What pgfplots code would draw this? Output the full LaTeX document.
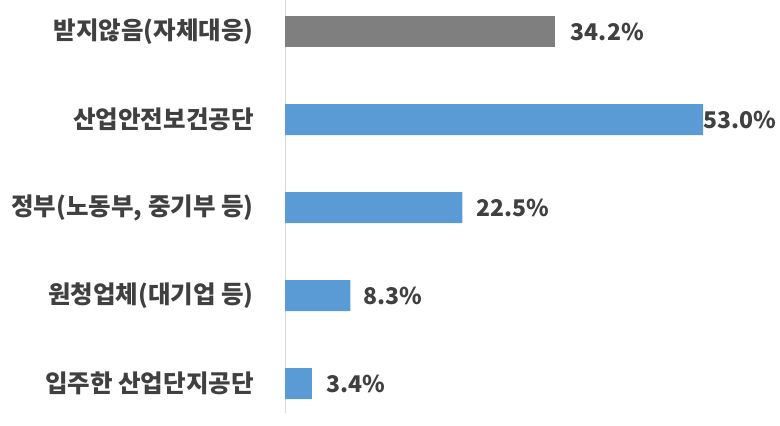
\documentclass[border=0pt]{standalone}
\usepackage{fontspec}
\setmainfont{Noto Sans CJK KR}
\usepackage{pgfplots}
\pgfplotsset{compat=1.18}
\definecolor{barblue}{HTML}{5B9BD5}
\definecolor{bargray}{HTML}{7F7F7F}
\definecolor{txt}{HTML}{404040}
\definecolor{lineg}{HTML}{D9D9D9}

\begin{document}
\begin{tikzpicture}
\begin{axis}[
    scale only axis,
    width=418pt, height=412.7pt,
    xmin=0, xmax=53,
    ymin=-0.36, ymax=4.33,
    y dir=reverse,
    xbar, bar width=31pt, bar shift=0pt,
    axis x line=none,
    axis y line=left,
    y axis line style={draw=lineg, line width=1pt, -},
    ytick={0,1,2,3,4},
    yticklabels={받지않음(자체대응), 산업안전보건공단, {정부(노동부, 중기부 등)}, 원청업체(대기업 등), 입주한 산업단지공단},
    ytick style={draw=none},
    yticklabel style={font=\fontsize{24.5}{28}\selectfont\bfseries, text=txt, anchor=east, inner sep=0pt, xshift=-29pt},
    clip=false,
    point meta=x,
    /pgf/number format/assume math mode=true,
    nodes near coords={\pgfmathprintnumber[fixed,fixed zerofill,precision=1,assume math mode=true]{\pgfplotspointmeta}\%},
    visualization depends on={value \thisrow{s} \as \lshift},
    every node near coord/.append style={font=\fontsize{23}{26}\selectfont\bfseries, text=txt, anchor=west, inner sep=0pt, xshift=\lshift pt},
]
\addplot[fill=bargray, draw=none] table[x=x, y=y] {
x y s
34.2 0 16
};
\addplot[fill=barblue, draw=none] table[x=x, y=y] {
x y s
53.0 1 0.5
22.5 2 14
8.3 3 13
3.4 4 14
};
\coordinate (bl) at (axis cs:-36.14,4.47);
\coordinate (tr) at (axis cs:62.76,-0.36);
\end{axis}
\pgfresetboundingbox
\path (bl) rectangle (tr);
\end{tikzpicture}
\end{document}
